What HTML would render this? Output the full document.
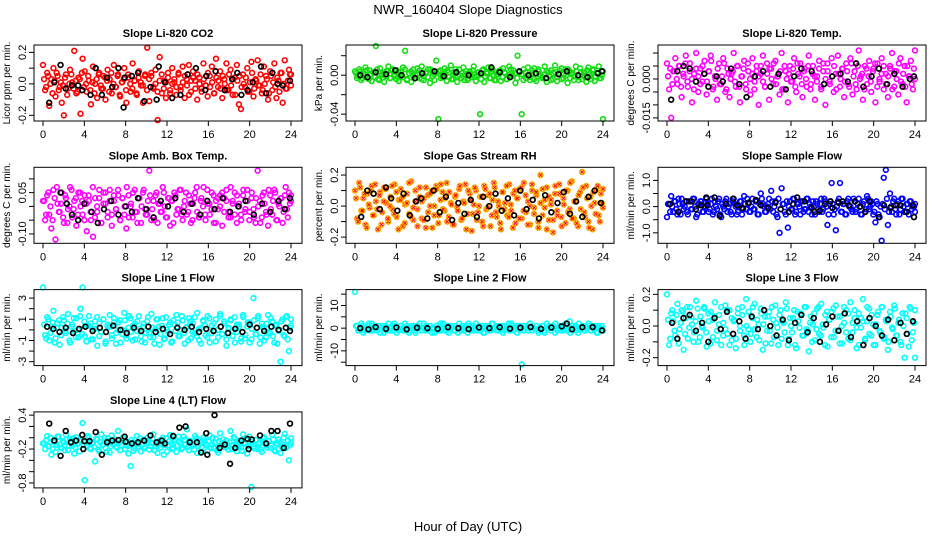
<!DOCTYPE html>
<html><head><meta charset="utf-8"><style>
body{margin:0;background:#fff;}
svg{display:block;font-family:"Liberation Sans",Arial,sans-serif;}
</style></head><body>
<svg id="c" width="936" height="540" viewBox="0 0 936 540">
<text x="468" y="14" text-anchor="middle" font-size="13">NWR_160404  Slope Diagnostics</text>
<text x="468" y="531" text-anchor="middle" font-size="13">Hour of Day (UTC)</text>
</svg>
<script>
const xTicks=[0,4,8,12,16,20,24];
const titles=["Slope Li-820 CO2","Slope Li-820 Pressure","Slope Li-820 Temp.","Slope Amb. Box Temp.","Slope Gas Stream RH","Slope Sample Flow","Slope Line 1 Flow","Slope Line 2 Flow","Slope Line 3 Flow","Slope Line 4 (LT) Flow"];
const yTitles=["Licor ppm per min.","kPa per min.","degrees C per min.","degrees C per min.","percent per min.","ml/min per min.","ml/min per min.","ml/min per min.","ml/min per min.","ml/min per min."];
const colors=["#ff0000","#11dd11","#ff00ff","#ff00ff","#ffa500","#0000ff","#00ffff","#00ffff","#00ffff","#00ffff"];
const yRanges=[[-0.236,0.247],[-0.047,0.031],[-0.0162,0.0131],[-0.134,0.142],[-0.24,0.25],[-1.4,1.5],[-3.37,3.8],[-16.5,17],[-0.25,0.23],[-0.887,0.457]];
const yTickVals=[[-0.2,-0.1,0,0.1,0.2],[-0.04,-0.02,0,0.02],[-0.015,-0.01,-0.005,0,0.005,0.01],[-0.1,-0.05,0,0.05,0.1],[-0.2,-0.1,0,0.1,0.2],[-1,-0.5,0,0.5,1],[-3,-2,-1,0,1,2,3],[-15,-10,-5,0,5,10,15],[-0.2,-0.1,0,0.1,0.2],[-0.8,-0.6,-0.4,-0.2,0,0.2,0.4]];
const yTickLabels=[["-0.2","","0.0","","0.2"],["-0.04","","0.00",""],["-0.015","","","0.000","",""],["-0.10","","","0.05",""],["-0.2","","0.0","","0.2"],["-1.0","","0.0","","1.0"],["-3","","-1","","1","","3"],["","-10","","0","","10",""],["-0.2","","0.0","","0.2"],["-0.8","","","-0.2","","","0.4"]];
const valueScale=[0.01,0.001,0.001,0.01,0.01,0.1,0.1,1,0.01,0.01];
const seriesCO2=[12,-4,7,-14,3,10,-8,5,-2,-12,-20,6,-3,9,1,21,-6,4,-19,16,8,-5,2,-13,11,0,-9,7,-3,5,-10,9,3,-6,12,-2,6,-8,1,10,-12,4,-5,13,2,-7,8,-1,-12,6,23,-11,5,-3,9,-23,17,-6,2,-9,7,-4,10,1,-7,6,-2,11,-9,3,12,-5,8,2,-10,4,-3,13,-1,-8,5,11,-6,16,-2,8,-9,3,13,-4,9,-7,4,12,-13,-16,6,-2,10,-5,14,-8,3,15,-1,-6,11,5,-10,8,-4,13,-9,2,7,-12,15,-3,9,6];
const seriesPress=[4,-3,6,-5,2,8,-2,5,-6,3,30,-4,7,1,-7,4,9,-3,6,-1,5,-6,3,8,25,-4,2,-7,6,0,7,-3,9,-5,2,6,-8,4,1,15,-45,5,-2,7,-6,3,10,-4,2,-7,6,-3,8,1,-5,4,-2,9,-6,3,-40,5,-7,2,8,-3,6,-5,1,4,-6,7,2,-4,9,-1,5,-8,20,3,-40,6,-3,8,-5,2,7,-6,4,1,-2,9,-7,3,5,-4,10,-6,2,7,-3,6,-8,4,1,-5,9,-2,7,-4,3,-7,8,-1,5,-6,2,9,-3,-45];
const seriesTemp=[6,-4,-15,3,8,-2,5,-7,1,9,-3,6,-9,2,10,-5,4,-1,7,-6,3,9,-4,1,-8,6,-2,8,-5,4,-7,2,10,-3,5,-9,1,7,-4,3,-6,8,-1,5,-10,2,9,-3,6,-8,4,-2,7,1,-6,10,-4,3,-9,5,-1,8,-5,2,6,-7,4,-3,9,-2,5,-8,1,7,-4,3,-10,6,-1,8,-5,2,9,-3,4,-7,6,-2,8,-6,3,-4,11,1,-8,5,-2,7,-5,4,-9,6,-1,8,-4,2,-7,5,10,-3,3,-6,8,-2,5,-9,1,7,-4,11];
const seriesAmb=[2,-5,4,-3,-8,6,-12,1,-2,5,-6,3,-1,7,-4,2,-7,5,0,-3,4,-9,2,-5,-11,3,-2,6,-6,1,5,-4,2,-7,4,-1,6,-5,3,-3,-8,4,0,-4,6,-2,3,-6,5,-1,-3,13,-5,2,4,-6,1,-2,5,-4,3,-7,2,5,-3,-1,6,-5,2,-3,4,-6,1,5,-2,-4,3,7,-5,1,-3,5,-6,2,-1,4,-7,3,6,-2,-4,2,5,-6,1,-3,4,-2,6,-5,3,-1,-6,13,2,-4,5,-2,-7,4,-3,6,-5,1,3,-6,4,-1,5,2];
const seriesRH=[10,-8,15,-3,5,-12,8,-1,13,-6,3,-15,9,-4,12,2,-10,6,-2,14,-7,4,11,-13,1,8,-5,16,-9,3,-2,12,-8,5,-14,7,0,10,-6,13,-11,4,9,-3,15,-7,2,-12,6,-1,11,-9,3,14,-5,8,-16,1,10,-4,6,-10,13,-2,7,-13,4,12,-7,0,-15,9,2,-6,14,-3,8,-11,5,11,-8,15,-4,3,-12,10,-1,7,-14,20,-6,4,12,-9,1,-17,8,-3,14,-7,5,-11,10,-2,16,-8,3,-13,9,22,-4,13,-10,6,-15,2,11,-6,8,-1];
const seriesSample=[-4,1,4,-2,2,-3,1,3,-1,2,-3,2,-1,3,-4,1,2,-2,0,3,-2,1,-3,2,-1,3,-4,0,2,-2,1,-3,3,0,-2,2,-3,4,-1,1,-2,3,-1,2,-3,5,1,-2,0,3,6,-2,2,-4,-10,7,1,-3,-8,2,-1,3,-2,1,-3,2,-1,3,-2,0,2,-3,1,-2,3,-1,2,-7,1,9,-3,-9,2,9,-2,1,-3,3,0,-2,2,-1,3,-3,1,-2,4,-1,2,-3,-6,1,-4,-13,11,14,-7,5,-2,3,-3,2,-1,3,-2,1,-3,2,0,1];
const seriesLine1=[40,-5,12,-10,3,18,-8,6,-14,2,9,-3,15,-12,5,-1,11,-7,20,40,-6,4,13,-9,1,8,-15,6,-2,10,-11,3,14,-5,7,-13,0,9,-4,16,-8,2,11,-10,6,-1,13,-6,3,-12,8,-3,15,-7,1,10,-14,4,-9,12,-2,7,-11,5,14,-6,0,9,-13,3,11,-8,6,-3,16,-10,2,8,-5,13,-12,4,-1,10,-7,15,-4,6,-15,1,9,-6,12,-2,5,-11,14,-8,3,7,-9,30,-4,11,-13,6,1,-7,14,-3,8,-12,5,-1,-30,10,-6,13,-20,4];
const seriesLine2=[16,1,-1,2,-2,0,1,-1,2,-1,0,1,-2,1,0,-1,2,0,-1,1,-2,0,1,-1,2,0,-1,1,0,-2,1,0,-1,2,-1,0,1,-2,0,1,-1,2,0,-1,1,-2,0,1,-1,0,2,-1,0,1,-2,1,0,-1,2,0,-1,1,-2,0,1,-1,2,0,-1,1,0,-2,1,0,-1,2,-1,0,1,-1,-16,1,0,-1,2,-1,0,1,-2,0,1,-1,2,0,-1,1,-2,0,1,-1,0,2,-1,3,0,-1,1,-2,0,1,-1,0,2,-1,1,0,-2,1,0,-1];
const seriesLine3=[20,-12,8,3,-6,14,-2,10,-15,5,-8,12,1,-4,16,-10,6,-1,11,-13,3,9,-7,15,-3,7,-12,2,13,-5,10,-9,4,-14,8,0,12,-6,17,-2,-10,5,14,-7,1,11,-15,6,-3,9,-11,4,13,-1,7,-8,2,15,-12,5,-4,10,-14,3,8,-6,12,-2,-16,6,1,-9,11,-5,14,-1,7,-13,4,9,-7,13,-3,6,-11,2,10,-8,15,-4,5,-14,8,-1,17,-9,3,11,-6,1,-12,7,-3,12,-8,4,-15,9,-1,13,-6,2,-10,8,-20,5,-13,11,-4,-20];
const seriesLine4=[-10,-20,3,-15,-30,-5,-25,2,-12,-18,-8,5,-22,-2,-14,-28,1,-10,-6,26,-75,-15,0,-20,-8,-42,-3,-24,6,-12,-18,-1,-26,4,-10,-16,12,-22,-6,-2,-14,-28,-50,-8,-19,3,-11,-24,-4,-16,0,-21,-9,6,-15,-27,-5,-12,-30,-1,-13,5,-20,-7,-25,2,-11,-18,-3,15,-22,-8,-14,3,-27,-6,-17,0,-10,-23,4,-12,-19,-2,-26,8,-9,-15,-5,-21,12,-13,-1,-24,-8,-17,6,-11,-28,2,-87,-15,-4,-20,-9,-25,1,-13,-6,-18,5,-22,-10,-3,-27,-12,7,-16,-40,-1];
const bandCO2=[3,-2,5,0,-6,2,7,-4,1,-1,4,-7,0,6,-3,2,-5,3,7,-2,0,5,-4,1,-6,3,6,-1,-3,4,2,-5,7,0,-2,5,-7,1,3,-4,6,0,-3,2,-6,4,1,-1,5,-4,3,7,-2,0,-5,2,6,-3,1,4,-6,0,3,-2,7,-4,1,5,-1,-7,2,4,-3,6,0,-5,3,-1,7,-2,1,-6,4,2,-3,5,0,-4,6,-1,3,-7,2,5,-2,0,4,-5,1,7,-3,2,-1,6,-4,0,3,-6,5,1,-2,4,-5,7,0,-3,2,6,-1];
const bandPress=[2,-1,4,-3,0,5,-4,1,3,-2,6,-5,0,2,-1,4,-3,5,1,-4,3,0,-2,6,-5,2,4,-1,-3,1,5,-4,0,3,-2,6,-1,-5,2,4,-3,0,1,5,-2,-4,3,6,-1,0,2,-5,4,-3,1,5,-2,0,3,-4,6,-1,2,-3,4,0,-5,1,5,-2,3,-4,0,6,-1,2,-3,4,1,-5,3,0,-2,5,-4,2,6,-1,-3,1,4,0,-5,2,3,-2,5,-4,1,0,6,-3,2,-1,4,-5,3,0,-2,5,1,-4,6,-1,2,-3,0,4];
const bandTemp=[1,4,-2,3,0,5,-3,2,6,-1,3,0,-4,4,1,-2,5,2,-1,3,7,-3,0,4,-2,1,6,-4,2,0,3,-1,5,-3,1,4,-2,6,0,2,-4,3,1,5,-1,-3,2,4,0,6,-2,1,3,-4,5,0,2,-1,4,-3,6,1,-2,3,0,5,-4,2,1,-1,4,-3,6,0,3,-2,1,5,-4,2,0,4,-1,3,-3,6,1,-2,5,0,2,-4,4,1,-1,3,6,-3,0,2,5,-2,1,4,-4,3,0,6,-1,2,-3,5,1,-2,4,0];
const bandAmb=[2,-3,5,0,-5,3,7,-2,1,-4,4,-6,0,6,-1,3,-3,5,2,-5,1,4,-2,7,-4,0,3,-6,5,1,-2,6,-3,2,-1,4,-5,3,0,7,-4,1,5,-2,-6,3,0,6,-3,2,4,-1,-5,5,1,-2,7,0,-4,3,2,-6,4,-1,6,-3,0,5,-2,1,-5,3,7,-4,2,0,-3,6,1,-1,4,-6,3,0,5,-2,2,-4,7,1,-3,4,0,-5,6,-1,2,-2,5,-4,3,0,-6,4,1,-3,6,-1,2,5,-5,0,3,-2,7,-4,1,4];
const bandRH=[5,-10,12,-3,8,-14,1,10,-6,14,-2,7,-12,3,11,-8,0,13,-5,9,-15,4,6,-11,2,15,-7,-1,10,-13,6,3,-9,12,-4,8,-14,0,11,-6,14,-2,5,-10,9,1,-12,7,-3,13,-8,2,-15,10,4,-5,12,-9,0,6,-13,11,-1,8,-6,15,-4,3,-11,9,-2,13,-7,1,-14,10,5,-8,12,-3,7,-12,0,14,-5,9,-10,2,11,-1,-15,6,4,-9,13,-6,8,-13,1,10,-4,15,-8,3,-11,7,-2,12,-7,5,-14,0,9,-5,13,-10,2,11];
const bandSample=[1,-2,0,2,-1,3,-3,1,0,-2,2,-1,3,0,-3,1,2,-2,0,1,-1,3,-2,0,2,-3,1,-1,3,0,-2,2,1,-3,0,2,-1,1,3,-2,0,-1,2,-3,1,3,0,-2,1,-1,2,0,-3,3,-1,1,-2,2,0,-1,3,-3,1,0,2,-2,-1,3,1,-3,0,2,-1,1,-2,3,0,-3,2,1,-1,0,3,-2,1,-3,2,0,-1,3,-2,1,0,-3,2,-1,3,0,1,-2,2,-3,0,1,-1,3,-2,0,2,-1,1,-3,3,0,-2,1,2,-1,0,-2];
const bandLine1=[5,-8,10,-3,7,-12,2,9,-5,12,-1,6,-10,3,11,-7,0,13,-4,8,-11,4,6,-9,1,12,-6,-2,10,-13,5,3,-8,11,-3,7,-12,0,9,-5,13,-2,4,-9,8,1,-11,6,-3,12,-7,2,-13,10,3,-4,11,-8,0,5,-12,9,-1,7,-6,13,-3,2,-10,8,-2,12,-6,1,-13,9,4,-7,11,-3,6,-11,0,13,-4,8,-9,2,10,-1,-12,5,3,-8,12,-5,7,-12,1,9,-4,13,-7,3,-10,6,-2,11,-6,4,-13,0,8,-5,12,-9,2,10];
const bandLine2=[1,-1,0,1,-1,0,2,-1,1,0,-1,1,0,-2,1,0,-1,1,2,0,-1,1,0,-1,1,-2,0,1,-1,0,2,-1,0,1,-1,1,0,-2,1,0,-1,2,0,-1,1,0,-1,1,-2,0,1,-1,0,2,-1,1,0,-1,1,0,-2,1,0,-1,2,0,1,-1,0,1,-1,0,2,-1,1,0,-2,1,0,-1,1,0,2,-1,0,1,-1,0,1,-2,0,1,-1,0,2,-1,1,0,-1,1,0,-2,1,0,-1,2,0,1,-1,0,1,-1,0,1,-2,0,1,-1];
const bandLine3=[4,-8,10,-3,7,-11,2,9,-5,12,-1,6,-10,3,11,-7,0,12,-4,8,-11,4,6,-9,1,12,-6,-2,10,-12,5,3,-8,11,-3,7,-12,0,9,-5,12,-2,4,-9,8,1,-11,6,-3,12,-7,2,-12,10,3,-4,11,-8,0,5,-12,9,-1,7,-6,12,-3,2,-10,8,-2,12,-6,1,-12,9,4,-7,11,-3,6,-11,0,12,-4,8,-9,2,10,-1,-12,5,3,-8,12,-5,7,-12,1,9,-4,12,-7,3,-10,6,-2,11,-6,4,-12,0,8,-5,12,-9,2,10];
const bandLine4=[-10,-5,-15,0,-20,-8,-12,2,-18,-6,-22,-3,-14,-9,-1,-17,-11,-24,-4,-13,-7,3,-19,-10,-16,-2,-21,-8,-12,0,-25,-6,-15,-11,-3,-18,-9,-13,1,-20,-7,-14,-4,-23,-10,-16,-1,-12,-19,-5,-9,-15,-2,-22,-11,-7,-17,0,-13,-24,-6,-10,-18,-3,-14,-8,-20,2,-12,-16,-5,-11,-21,-1,-15,-9,-25,-4,-13,-7,-18,0,-10,-22,-6,-14,-3,-17,-11,-8,-20,1,-12,-16,-5,-23,-9,-2,-15,-13,-7,-19,-4,-11,-21,-1,-10,-17,-6,-14,-3,-24,-12,-8,-16,0,-18,-5,-13,-9];
const blackCO2=[[0.6,-0.12],[1.1,0.01],[1.7,0.12],[2.2,-0.03],[2.8,-0.01],[3.4,-0.01],[3.8,-0.04],[4.6,-0.07],[5.1,0.1],[5.7,-0.07],[6.2,0.04],[6.7,-0.02],[7.3,0.1],[7.8,-0.15],[7.9,0.04],[8.6,0.05],[9.2,0.07],[9.8,-0.11],[10.4,-0.02],[11,-0.1],[11.2,0.11],[11.8,0.01],[12.5,-0.09],[13.3,-0.07],[14,0.06],[14.8,0.1],[15.7,-0.04],[15.8,0.05],[16.7,0.08],[17.6,-0.04],[18.3,0.03],[18.8,0.07],[19.2,-0.07],[19.8,-0.04],[20.3,0.01],[21.1,0.11],[21.6,-0.06],[22.2,0.07],[22.7,0],[23.2,-0.01],[23.9,0.02]];
const blackPress=[[0.5,0],[1.2,-0.002],[2,0.003],[3,0.001],[3.9,0.005],[4.5,0],[5.8,-0.003],[6.5,0.002],[7.7,0.004],[8.6,-0.001],[9.8,0.003],[11,0],[12.2,0.002],[13.2,0.008],[14,0.003],[15,-0.002],[15.9,0.004],[16.8,0],[17.5,0.002],[18.5,-0.003],[19.7,0.001],[20.5,0.004],[21.6,0],[22.5,-0.002],[23.5,0.002],[23.9,0.004]];
const blackTemp=[[0.4,-0.008],[1,0.003],[1.6,0.005],[2.2,0.004],[2.8,-0.001],[3.6,0.002],[4,-0.003],[4.8,0.001],[5.4,-0.001],[6.2,0.004],[7,-0.002],[7.7,-0.007],[8.5,0.001],[9.3,0.003],[10,-0.003],[10.8,0.002],[11.5,-0.004],[12.3,0.001],[13,0.004],[14,0.003],[15.2,-0.002],[16,0.001],[16.8,0.002],[17.5,-0.001],[18.3,0.006],[19,-0.003],[19.8,0.001],[20.5,0.004],[21.3,-0.002],[22,0.002],[22.8,-0.003],[23.5,0],[23.9,0.001]];
const blackAmb=[[1.7,0.05],[2.3,0.01],[2.8,-0.03],[3.4,-0.05],[4,0.01],[4.7,-0.02],[5.3,-0.06],[5.9,-0.01],[6.6,0.02],[7.3,-0.03],[8,0],[8.6,-0.02],[9.2,0.03],[10,-0.01],[10.7,-0.04],[11.4,0.02],[12.1,0],[12.8,0.03],[13.6,-0.02],[14.4,0.01],[15.2,-0.03],[15.9,0.02],[16.6,-0.01],[17.4,0.03],[18.1,-0.02],[18.9,0],[19.6,0.02],[20.4,-0.03],[21.2,0.01],[22,-0.02],[22.8,0.02],[23.4,-0.01],[23.9,0.03]];
const blackRH=[[0.6,-0.07],[1.2,0.1],[1.8,0.08],[2.4,-0.02],[3,0.12],[3.5,0.05],[4.1,-0.03],[4.7,0.08],[5.3,-0.06],[5.9,0.03],[6.4,0.05],[7,-0.08],[7.6,0.1],[8.2,-0.04],[8.8,0.06],[9.4,-0.09],[10,0.02],[10.6,-0.05],[11.2,0.04],[11.8,-0.07],[12.4,0.06],[13,0],[13.6,0.08],[14.2,-0.03],[14.8,0.05],[15.4,-0.06],[16,0.1],[16.6,-0.02],[17.2,0.04],[17.8,-0.08],[18.4,0.07],[19,-0.04],[19.6,0.02],[20.2,0.09],[20.8,-0.05],[21.4,0.03],[22,-0.07],[22.6,0.06],[23.2,0.1],[23.8,0.02]];
const blackSample=[[0.3,0.1],[1.1,-0.2],[1.9,0.2],[2.4,0.2],[2.8,-0.1],[3.3,0.05],[3.8,0.35],[3.9,0.05],[4.6,0.35],[5.1,-0.35],[5.7,0.1],[6.4,0.3],[6.8,0.05],[7.3,-0.05],[7.9,0.15],[8.6,0.25],[9.1,0.05],[9.8,-0.05],[10.5,0.15],[11,-0.1],[11.8,-0.2],[12.2,0.1],[12.6,0.35],[13.3,0.2],[14,-0.05],[14.3,-0.2],[14.8,-0.15],[15.3,0.1],[15.8,0.2],[16,-0.05],[16.6,0.15],[17,0.2],[17.6,0.05],[18.2,0.2],[18.7,0],[19.2,-0.2],[19.6,0.2],[20.5,-0.4],[21,0.05],[21.6,-0.05],[22.1,0.05],[22.6,0.05],[23.2,-0.2],[23.8,0.05],[23.9,-0.4]];
const blackLine1=[[0.4,0.3],[1,0.1],[1.6,-0.2],[2.2,0.2],[2.9,-0.3],[3.5,0.1],[4.1,0.3],[4.8,-0.1],[5.5,0.2],[6.1,-0.2],[6.8,0.4],[7.5,0],[8.1,-0.3],[8.8,0.2],[9.5,-0.1],[10.2,0.3],[10.9,-0.2],[11.6,0.1],[12.3,-0.4],[13,0.2],[13.7,0],[14.4,0.3],[15.1,-0.2],[15.8,0.1],[16.5,-0.1],[17.2,0.3],[17.9,-0.3],[18.6,0.1],[19.3,-0.2],[20,0.5],[20.7,0.2],[21.4,-0.1],[22.1,0.3],[22.8,0],[23.5,0.2],[23.9,-0.1]];
const blackLine2=[[0.5,0],[1.3,-0.5],[2,0.5],[3,-0.3],[4,0.3],[5,-0.5],[6,0.2],[7,0],[8,-0.3],[9,0.4],[10,0],[11,-0.4],[12,0.3],[13,0],[14,0.4],[15,-0.2],[16,0.2],[17,0.5],[18,-0.3],[19,0.3],[20,0.8],[20.5,2],[21,-0.5],[22,0.4],[23,0.5],[23.9,-1]];
const blackLine3=[[0.5,0.02],[1,-0.08],[1.6,0.05],[2.2,0.07],[2.8,-0.03],[3.4,0.02],[4,-0.1],[4.6,0.05],[5.2,-0.02],[5.8,0.09],[6.4,-0.05],[7,0.03],[7.6,-0.08],[8.2,0.06],[8.8,-0.02],[9.4,0.1],[10,0],[10.6,-0.06],[11.2,0.04],[11.8,-0.09],[12.4,0.02],[13,0.07],[13.6,-0.04],[14.2,0.05],[14.8,-0.1],[15.4,0.01],[16,0.06],[16.6,-0.03],[17.2,0.08],[17.8,-0.07],[18.4,0.03],[19,-0.12],[19.6,0.05],[20.2,0],[20.8,-0.06],[21.4,0.04],[22,-0.09],[22.6,0.02],[23.2,-0.05],[23.8,0.03]];
const blackLine4=[[0.6,0.25],[1.1,-0.05],[1.7,-0.32],[2.2,0.12],[2.7,-0.08],[3.2,-0.05],[3.8,0.05],[3.9,-0.2],[4,-0.06],[4.5,-0.06],[5.1,0.1],[5.7,-0.3],[6.2,-0.08],[6.7,-0.05],[7.3,-0.04],[7.9,0.02],[8,-0.07],[8.6,-0.1],[9.2,-0.08],[9.8,-0.05],[10.4,0.04],[11,-0.08],[11.5,-0.05],[11.8,-0.1],[12.6,0.03],[13.2,0.18],[13.8,0.2],[14.2,-0.08],[14.9,-0.08],[15.3,-0.26],[15.8,0.08],[15.9,-0.3],[16.6,0.4],[17.1,-0.18],[17.6,-0.12],[18.1,-0.46],[18.6,-0.18],[19.2,-0.05],[19.8,-0.02],[19.9,-0.2],[20.2,-0.03],[21,0.04],[21.6,-0.1],[22.1,0.12],[22.7,0.12],[23.3,-0.18],[23.9,0.25]];
const colored=[seriesCO2,seriesPress,seriesTemp,seriesAmb,seriesRH,seriesSample,seriesLine1,seriesLine2,seriesLine3,seriesLine4];
const bands=[bandCO2,bandPress,bandTemp,bandAmb,bandRH,bandSample,bandLine1,bandLine2,bandLine3,bandLine4];
const blacks=[blackCO2,blackPress,blackTemp,blackAmb,blackRH,blackSample,blackLine1,blackLine2,blackLine3,blackLine4];

const NS="http://www.w3.org/2000/svg";
const svg=document.getElementById('c');
function mk(tag,attrs,parent){const e=document.createElementNS(NS,tag);for(const k in attrs)e.setAttribute(k,attrs[k]);(parent||svg).appendChild(e);return e;}
const PW=268,PH=76;
for(let p=0;p<10;p++){
  const col=p%3,row=Math.floor(p/3);
  const left=34+col*312,top=45+row*122.3;
  const x0=left+9,x1=left+PW-11;
  const g=mk('g',{});
  
  
  const xs=h=>x0+(x1-x0)*h/24;
  const [ymin,ymax]=yRanges[p];
  const ys=v=>top+PH-(v-ymin)/(ymax-ymin)*PH;
  const t=mk('text',{x:left+PW/2,y:top-8,'text-anchor':'middle','font-size':11,'font-weight':'bold'},g);
  t.textContent=titles[p];
  
  
  const yt=mk('text',{transform:`translate(${left-24},${top+PH/2}) rotate(-90)`,'text-anchor':'middle','font-size':10},g);
  yt.textContent=yTitles[p];
  
  
  const drawSeries=(vals,off)=>{
    const n=vals.length;
    vals.forEach((v,i)=>{
      const h=Math.min(24,(i+off)*24/(n-1));
      const cx=xs(h),cy=ys(v*valueScale[p]);
      const c=mk('circle',{cx:cx,cy:cy,r:2.4,fill:'none',stroke:colors[p],'stroke-width':1.6},g);
      
      
      if(p===4){
        const q=mk('path',{d:`M${cx-1.5} ${cy-1.5}l3 3m0 -3l-3 3`,stroke:'#ff0000','stroke-width':1},g);
        
        
      }
    });
  };
  drawSeries(colored[p],0);
  drawSeries(bands[p],0.5);
  blacks[p].forEach(([h,v])=>{
    const c=mk('circle',{cx:xs(h),cy:ys(v),r:2.4,fill:'none',stroke:'#000','stroke-width':1.7},g);
    
    
  });
  const box=mk('rect',{x:left,y:top,width:PW,height:PH,fill:'none',stroke:'#000','stroke-width':1},g);
  
  
  xTicks.forEach(h=>{
    mk('line',{x1:xs(h),x2:xs(h),y1:top+PH,y2:top+PH+5,stroke:'#000'},g);
    const l=mk('text',{x:xs(h),y:top+PH+17,'text-anchor':'middle','font-size':11},g);
    l.textContent=h;
    
    
  });
  yTickVals[p].forEach((v,i)=>{
    mk('line',{x1:left-5,x2:left,y1:ys(v),y2:ys(v),stroke:'#000'},g);
    const s=yTickLabels[p][i];
    if(s){
      const l=mk('text',{transform:`translate(${left-8},${ys(v)}) rotate(-90)`,'text-anchor':'middle','font-size':11},g);
      l.textContent=s;
      
      
    }
  });
}
</script>
</body></html>
